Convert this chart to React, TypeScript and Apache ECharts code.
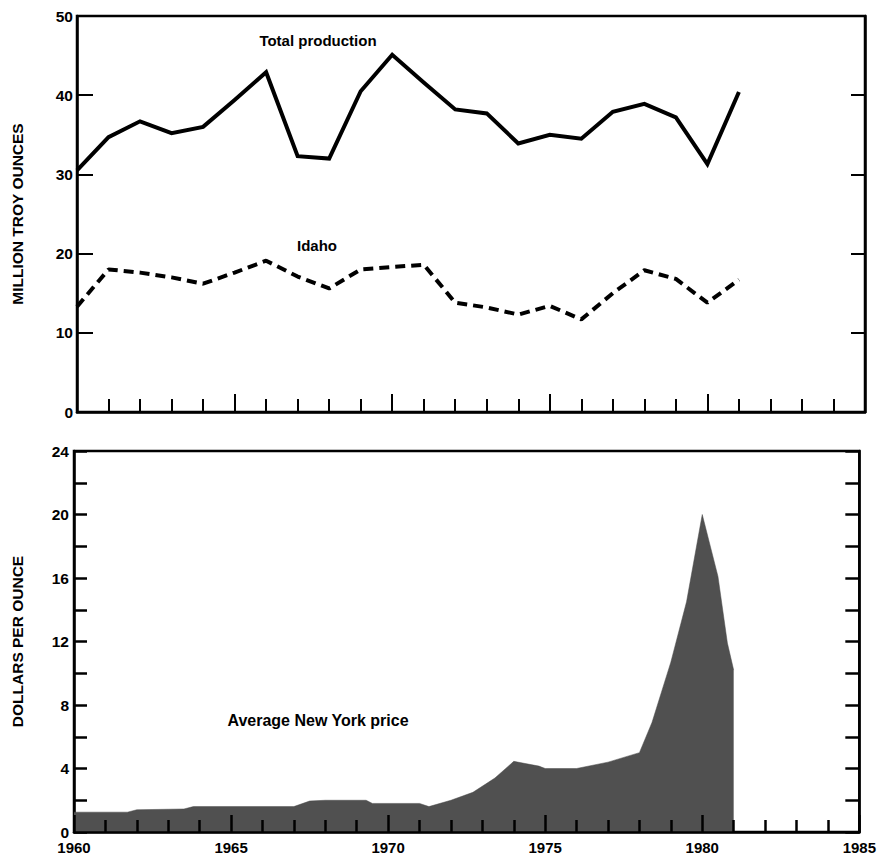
import React, { useEffect, useRef } from "react";
import * as echarts from "echarts";

const years = [1960, 1961, 1962, 1963, 1964, 1965, 1966, 1967, 1968, 1969, 1970, 1971, 1972, 1973, 1974, 1975, 1976, 1977, 1978, 1979, 1980, 1981];
const totalProduction = [30.5, 34.7, 36.7, 35.2, 36.0, 39.4, 42.9, 32.3, 32.0, 40.5, 45.1, 41.6, 38.2, 37.7, 33.9, 35.0, 34.5, 37.9, 38.9, 37.2, 31.3, 40.4];
const idahoProduction = [13.3, 18.0, 17.6, 17.0, 16.2, 17.6, 19.1, 17.1, 15.6, 18.0, 18.3, 18.6, 13.8, 13.2, 12.3, 13.4, 11.7, 15.0, 17.9, 16.8, 13.8, 16.7];

const priceYears = [1960, 1961.7, 1962.0, 1963.5, 1963.8, 1967.0, 1967.5, 1968.0, 1969.3, 1969.5, 1971.0, 1971.3, 1972.0, 1972.7, 1973.4, 1974.0, 1974.8, 1975.0, 1976.0, 1977.0, 1978.0, 1978.4, 1979.0, 1979.5, 1980.0, 1980.5, 1980.8, 1981.0];
const priceValues = [1.25, 1.25, 1.4, 1.45, 1.6, 1.6, 1.95, 2.0, 2.0, 1.8, 1.8, 1.6, 2.0, 2.5, 3.4, 4.45, 4.15, 4.0, 4.0, 4.4, 5.0, 6.9, 10.7, 14.5, 20.0, 16.1, 11.9, 10.2];

const yearAxisMin = 1960;
const yearAxisMax = 1985;
const productionMax = 50;
const priceMax = 24;

const FONT = "'Liberation Sans', Arial, Helvetica, sans-serif";

export default function App() {
  const ref = useRef<HTMLDivElement>(null);
  useEffect(() => {
    if (!ref.current) return;
    const chart = echarts.init(ref.current, null, { renderer: "svg" });
    const axisLine = { show: true, onZero: false, lineStyle: { color: "#000", width: 2.5 } };
    const labelStyle = { color: "#000", fontFamily: FONT, fontWeight: "bold" as const, fontSize: 15.5, lineHeight: 12 };
    const titleStyle = { color: "#000", fontFamily: FONT, fontWeight: "bold" as const, fontSize: 15.5 };
    const option = {
      animation: false,
      backgroundColor: "#fff",
      grid: [
        { left: 77, right: 14, top: 16, height: 396, show: true, borderColor: "#000", borderWidth: 2.5, backgroundColor: "transparent" },
        { left: 74, right: 19, top: 451, height: 381, show: true, borderColor: "#000", borderWidth: 2.5, backgroundColor: "transparent" },
      ],
      xAxis: [
        {
          type: "value", gridIndex: 0, min: yearAxisMin, max: yearAxisMax, interval: 5, z: 5,
          axisLine,
          axisTick: { show: true, inside: true, length: 18, lineStyle: { color: "#000", width: 2 } },
          minorTick: { show: true, splitNumber: 5, length: 13, lineStyle: { color: "#000", width: 2 } },
          axisLabel: { show: false },
          splitLine: { show: false },
        },
        {
          type: "value", gridIndex: 1, min: yearAxisMin, max: yearAxisMax, interval: 5, z: 5,
          axisLine,
          axisTick: { show: true, inside: true, length: 17, lineStyle: { color: "#000", width: 2.5 } },
          minorTick: { show: true, splitNumber: 5, length: 12, lineStyle: { color: "#000", width: 2.5 } },
          axisLabel: { show: true, margin: 9, color: "#000", fontFamily: FONT, fontWeight: "bold", fontSize: 15, lineHeight: 13, formatter: (v: number) => String(v) },
          splitLine: { show: false },
        },
      ],
      yAxis: [
        {
          type: "value", gridIndex: 0, min: 0, max: productionMax, interval: 10, position: "left",
          axisLine,
          axisTick: { show: true, inside: true, length: 16, lineStyle: { color: "#000", width: 2 } },
          axisLabel: { show: true, margin: 4, ...labelStyle },
          splitLine: { show: false },
          name: "MILLION TROY OUNCES", nameLocation: "middle", nameGap: 52, nameRotate: 90,
          nameTextStyle: titleStyle,
        },
        {
          type: "value", gridIndex: 0, min: 0, max: productionMax, interval: 10, position: "right",
          axisLine,
          axisTick: { show: true, inside: true, length: 14, lineStyle: { color: "#000", width: 2 } },
          axisLabel: { show: false },
          splitLine: { show: false },
        },
        {
          type: "value", gridIndex: 1, min: 0, max: priceMax, interval: 4, position: "left",
          axisLine,
          axisTick: { show: true, inside: true, length: 13, lineStyle: { color: "#000", width: 2.5 } },
          minorTick: { show: true, splitNumber: 2, length: 13, lineStyle: { color: "#000", width: 2.5 } },
          axisLabel: { show: true, margin: 5, ...labelStyle },
          splitLine: { show: false },
          minorSplitLine: { show: false },
          name: "DOLLARS PER OUNCE", nameLocation: "middle", nameGap: 49, nameRotate: 90,
          nameTextStyle: titleStyle,
        },
        {
          type: "value", gridIndex: 1, min: 0, max: priceMax, interval: 2, position: "right",
          axisLine,
          axisTick: { show: true, inside: true, length: 14, lineStyle: { color: "#000", width: 2.5 } },
          axisLabel: { show: false },
          splitLine: { show: false },
        },
      ],
      series: [
        {
          name: "Total production", type: "line", xAxisIndex: 0, yAxisIndex: 0,
          data: years.map((y, i) => [y, totalProduction[i]]),
          symbol: "none", lineStyle: { color: "#000", width: 4, join: "miter" },
        },
        {
          name: "Idaho", type: "line", xAxisIndex: 0, yAxisIndex: 0,
          data: years.map((y, i) => [y, idahoProduction[i]]),
          symbol: "none", lineStyle: { color: "#000", width: 4, type: [10, 6] },
        },
        {
          name: "Average New York price", type: "line", xAxisIndex: 1, yAxisIndex: 2,
          data: priceYears.map((y, i) => [y, priceValues[i]]),
          symbol: "none", lineStyle: { width: 0.5, color: "#4a4a4a" },
          areaStyle: { color: "#505050", opacity: 1 },
        },
      ],
      graphic: [
        { type: "text", x: 318, y: 40, style: { text: "Total production", fill: "#000", font: `bold 15px ${FONT}`, textAlign: "center", textVerticalAlign: "middle" } },
        { type: "text", x: 317, y: 245, style: { text: "Idaho", fill: "#000", font: `bold 15px ${FONT}`, textAlign: "center", textVerticalAlign: "middle" } },
        { type: "text", x: 318, y: 720, style: { text: "Average New York price", fill: "#000", font: `bold 16px ${FONT}`, textAlign: "center", textVerticalAlign: "middle" } },
      ],
    };
    chart.setOption(option as any);
    return () => chart.dispose();
  }, []);
  return <div ref={ref} style={{ position: "fixed", left: 0, top: 0, width: 879, height: 862, background: "#fff" }} />;
}
